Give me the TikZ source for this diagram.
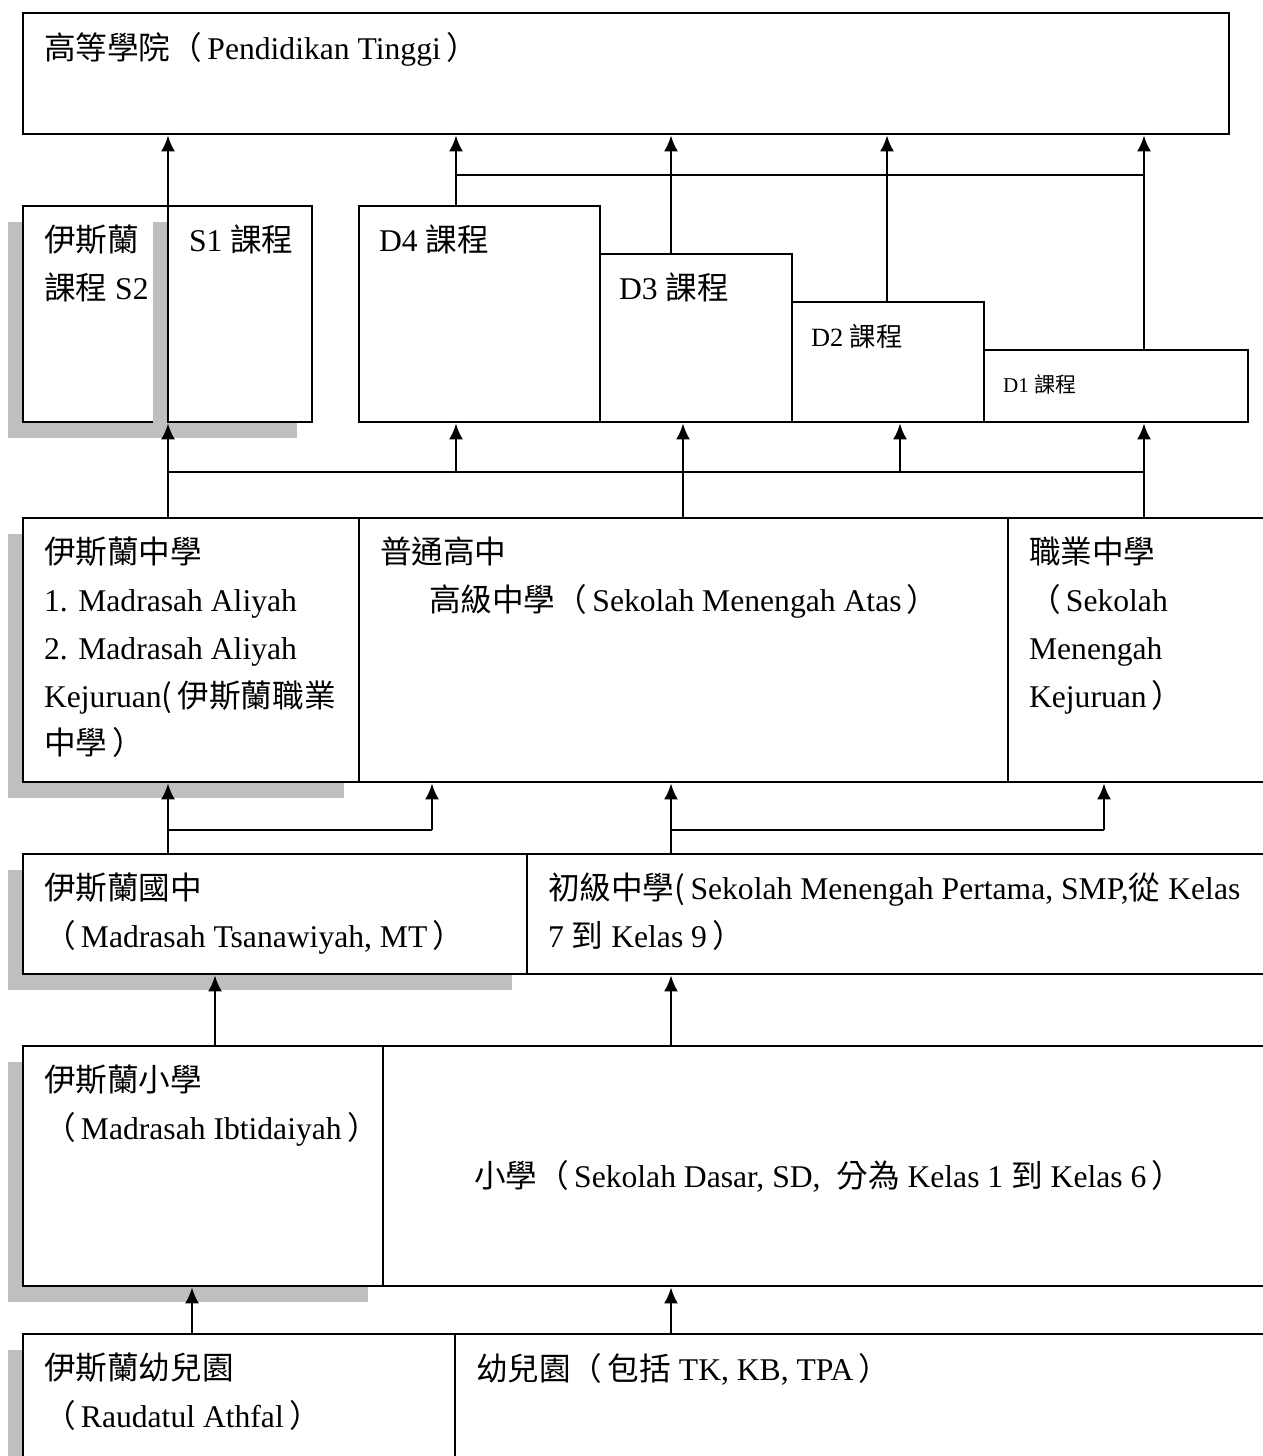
\documentclass[tikz,border=0pt]{standalone}
\usepackage{fontspec}
\setmainfont{Liberation Serif}
\newfontfamily\cjk{Noto Sans CJK TC}
\newcommand{\zh}[1]{{\cjk #1}}
\newcommand{\lp}{\zh{（}\,}
\newcommand{\rp}{\,\zh{）}}
\usetikzlibrary{arrows.meta,shadows,fit}

\tikzset{
  cell/.style={draw, line width=1.5pt, fill=white, inner sep=0pt},
  shade/.style={drop shadow={shadow xshift=-0.3cm, shadow yshift=-0.32cm, fill=black!25, opacity=1}},
  lbl/.style={anchor=north west, inner sep=0pt, align=left, font=\fontsize{18}{27.2}\selectfont},
  flow/.style={line width=1.5pt, -{Latex[length=0.32cm, width=0.28cm]}},
  bus/.style={line width=1.5pt}
}

\begin{document}
\begin{tikzpicture}[x=0.02cm, y=-0.02cm]

\useasboundingbox (0,0) rectangle (1263,1456);
\clip (0,0) rectangle (1263,1456);

% Higher education
\node[cell, fit={(23,13) (1229,134)}] (hi) {};
\node[lbl] (hiL) at ([shift={(22,20)}]hi.north west) {\zh{高等學院}\lp Pendidikan Tinggi\rp};

% S programmes
\node[cell, shade, fit={(23,206) (168,422)}] (s2) {};
\node[cell, shade, fit={(168,206) (312,422)}] (s1) {};
\node[lbl] (s2L) at ([shift={(22,20)}]s2.north west) {\zh{伊斯蘭}\\\zh{課程} S2};
\node[lbl] (s1L) at ([shift={(22,20)}]s1.north west) {S1 \zh{課程}};

% D programmes (steps)
\node[cell, fit={(359,206) (600,422)}] (d4) {};
\node[cell, fit={(600,254) (792,422)}] (d3) {};
\node[cell, fit={(792,302) (984,422)}] (d2) {};
\node[cell, fit={(984,350) (1248,422)}] (d1) {};
\node[lbl] (d4L) at ([shift={(21,20)}]d4.north west) {D4 \zh{課程}};
\node[lbl] (d3L) at ([shift={(20,20)}]d3.north west) {D3 \zh{課程}};
\node[lbl, font=\fontsize{15}{18}\selectfont] (d2L) at ([shift={(20,23)}]d2.north west) {D2 \zh{課程}};
\node[lbl, font=\fontsize{12}{14}\selectfont] (d1L) at ([shift={(20,26)}]d1.north west) {D1 \zh{課程}};

% Upper secondary
\node[cell, shade, fit={(23,518) (359,782)}] (ma) {};
\node[cell, fit={(359,518) (1008,782)}] (sma) {};
\node[cell, fit={(1008,518) (1290,782)}] (smk) {};
\node[lbl] (maL) at ([shift={(22,20)}]ma.north west) {\zh{伊斯蘭中學}\\1. Madrasah Aliyah\\2. Madrasah Aliyah\\Kejuruan\zh{(}\,\zh{伊斯蘭職業}\\\zh{中學}\rp};
\node[lbl] (smaL) at ([shift={(22,20)}]sma.north west) {\zh{普通高中}\\\hspace*{0.98cm}\zh{高級中學}\lp Sekolah Menengah Atas\rp};
\node[lbl] (smkL) at ([shift={(22,20)}]smk.north west) {\zh{職業中學}\\\lp Sekolah\\Menengah\\Kejuruan\rp};

% Lower secondary
\node[cell, shade, fit={(23,854) (527,974)}] (mts) {};
\node[cell, fit={(527,854) (1290,974)}] (smp) {};
\node[lbl] (mtsL) at ([shift={(22,20)}]mts.north west) {\zh{伊斯蘭國中}\\\lp Madrasah Tsanawiyah, MT\rp};
\node[lbl] (smpL) at ([shift={(22,20)}]smp.north west) {\zh{初級中學(}\,Sekolah Menengah Pertama, SMP,\zh{從} Kelas\\7 \zh{到} Kelas 9\rp};

% Primary
\node[cell, shade, fit={(23,1046) (383,1286)}] (mi) {};
\node[cell, fit={(383,1046) (1290,1286)}] (sd) {};
\node[lbl] (miL) at ([shift={(22,20)}]mi.north west) {\zh{伊斯蘭小學}\\\lp Madrasah Ibtidaiyah\rp};
\node[lbl, anchor=west] (sdL) at ([shift={(92,132)}]sd.north west) {\zh{小學}\lp Sekolah Dasar, SD,\enspace\zh{分為} Kelas 1 \zh{到} Kelas 6\rp};

% Kindergarten
\node[cell, shade, fit={(23,1334) (455,1480)}] (ra) {};
\node[cell, fit={(455,1334) (1290,1480)}] (tk) {};
\node[lbl] (raL) at ([shift={(22,20)}]ra.north west) {\zh{伊斯蘭幼兒園}\\\lp Raudatul Athfal\rp};
\node[lbl] (tkL) at ([shift={(22,20)}]tk.north west) {\zh{幼兒園}\lp\zh{包括} TK, KB, TPA\rp};

% Columns and bus lines
\coordinate (cS) at (168,0);
\coordinate (cD4) at (456,0);
\coordinate (cD3u) at (671,0);
\coordinate (cD2u) at (887,0);
\coordinate (cD1) at (1144,0);
\coordinate (cD3l) at (683,0);
\coordinate (cD2l) at (900,0);
\coordinate (cM1) at (432,0);
\coordinate (cM3) at (1104,0);
\coordinate (cP1) at (215,0);
\coordinate (cK1) at (192,0);
\coordinate (upbus) at (0,175);
\coordinate (midbus) at (0,472);
\coordinate (lowbus) at (0,830);

% Into higher education
\draw[flow] (cS |- s1.north) -- (cS |- hi.south);
\foreach \c/\n in {cD4/d4, cD3u/d3, cD2u/d2, cD1/d1}
  \draw[flow] (\c |- \n.north) -- (\c |- hi.south);
\draw[bus] (cD4 |- upbus) -- (cD1 |- upbus);

% Upper secondary to programmes
\draw[bus] (cS |- ma.north) -- (cS |- midbus) -- (cD1 |- midbus) -- (cD1 |- smk.north);
\draw[bus] (cD3l |- sma.north) -- (cD3l |- midbus);
\draw[flow] (cS |- midbus) -- (cS |- s1.south);
\foreach \c/\n in {cD4/d4, cD3l/d3, cD2l/d2, cD1/d1}
  \draw[flow] (\c |- midbus) -- (\c |- \n.south);

% Lower secondary to upper secondary
\draw[flow] (cS |- mts.north) -- (cS |- ma.south);
\draw[bus] (cS |- lowbus) -- (cM1 |- lowbus);
\draw[flow] (cM1 |- lowbus) -- (cM1 |- sma.south);
\draw[flow] (cD3u |- smp.north) -- (cD3u |- sma.south);
\draw[bus] (cD3u |- lowbus) -- (cM3 |- lowbus);
\draw[flow] (cM3 |- lowbus) -- (cM3 |- smk.south);

% Primary and kindergarten
\draw[flow] (cP1 |- mi.north) -- (cP1 |- mts.south);
\draw[flow] (cD3u |- sd.north) -- (cD3u |- smp.south);
\draw[flow] (cK1 |- ra.north) -- (cK1 |- mi.south);
\draw[flow] (cD3u |- tk.north) -- (cD3u |- sd.south);

\end{tikzpicture}
\end{document}
